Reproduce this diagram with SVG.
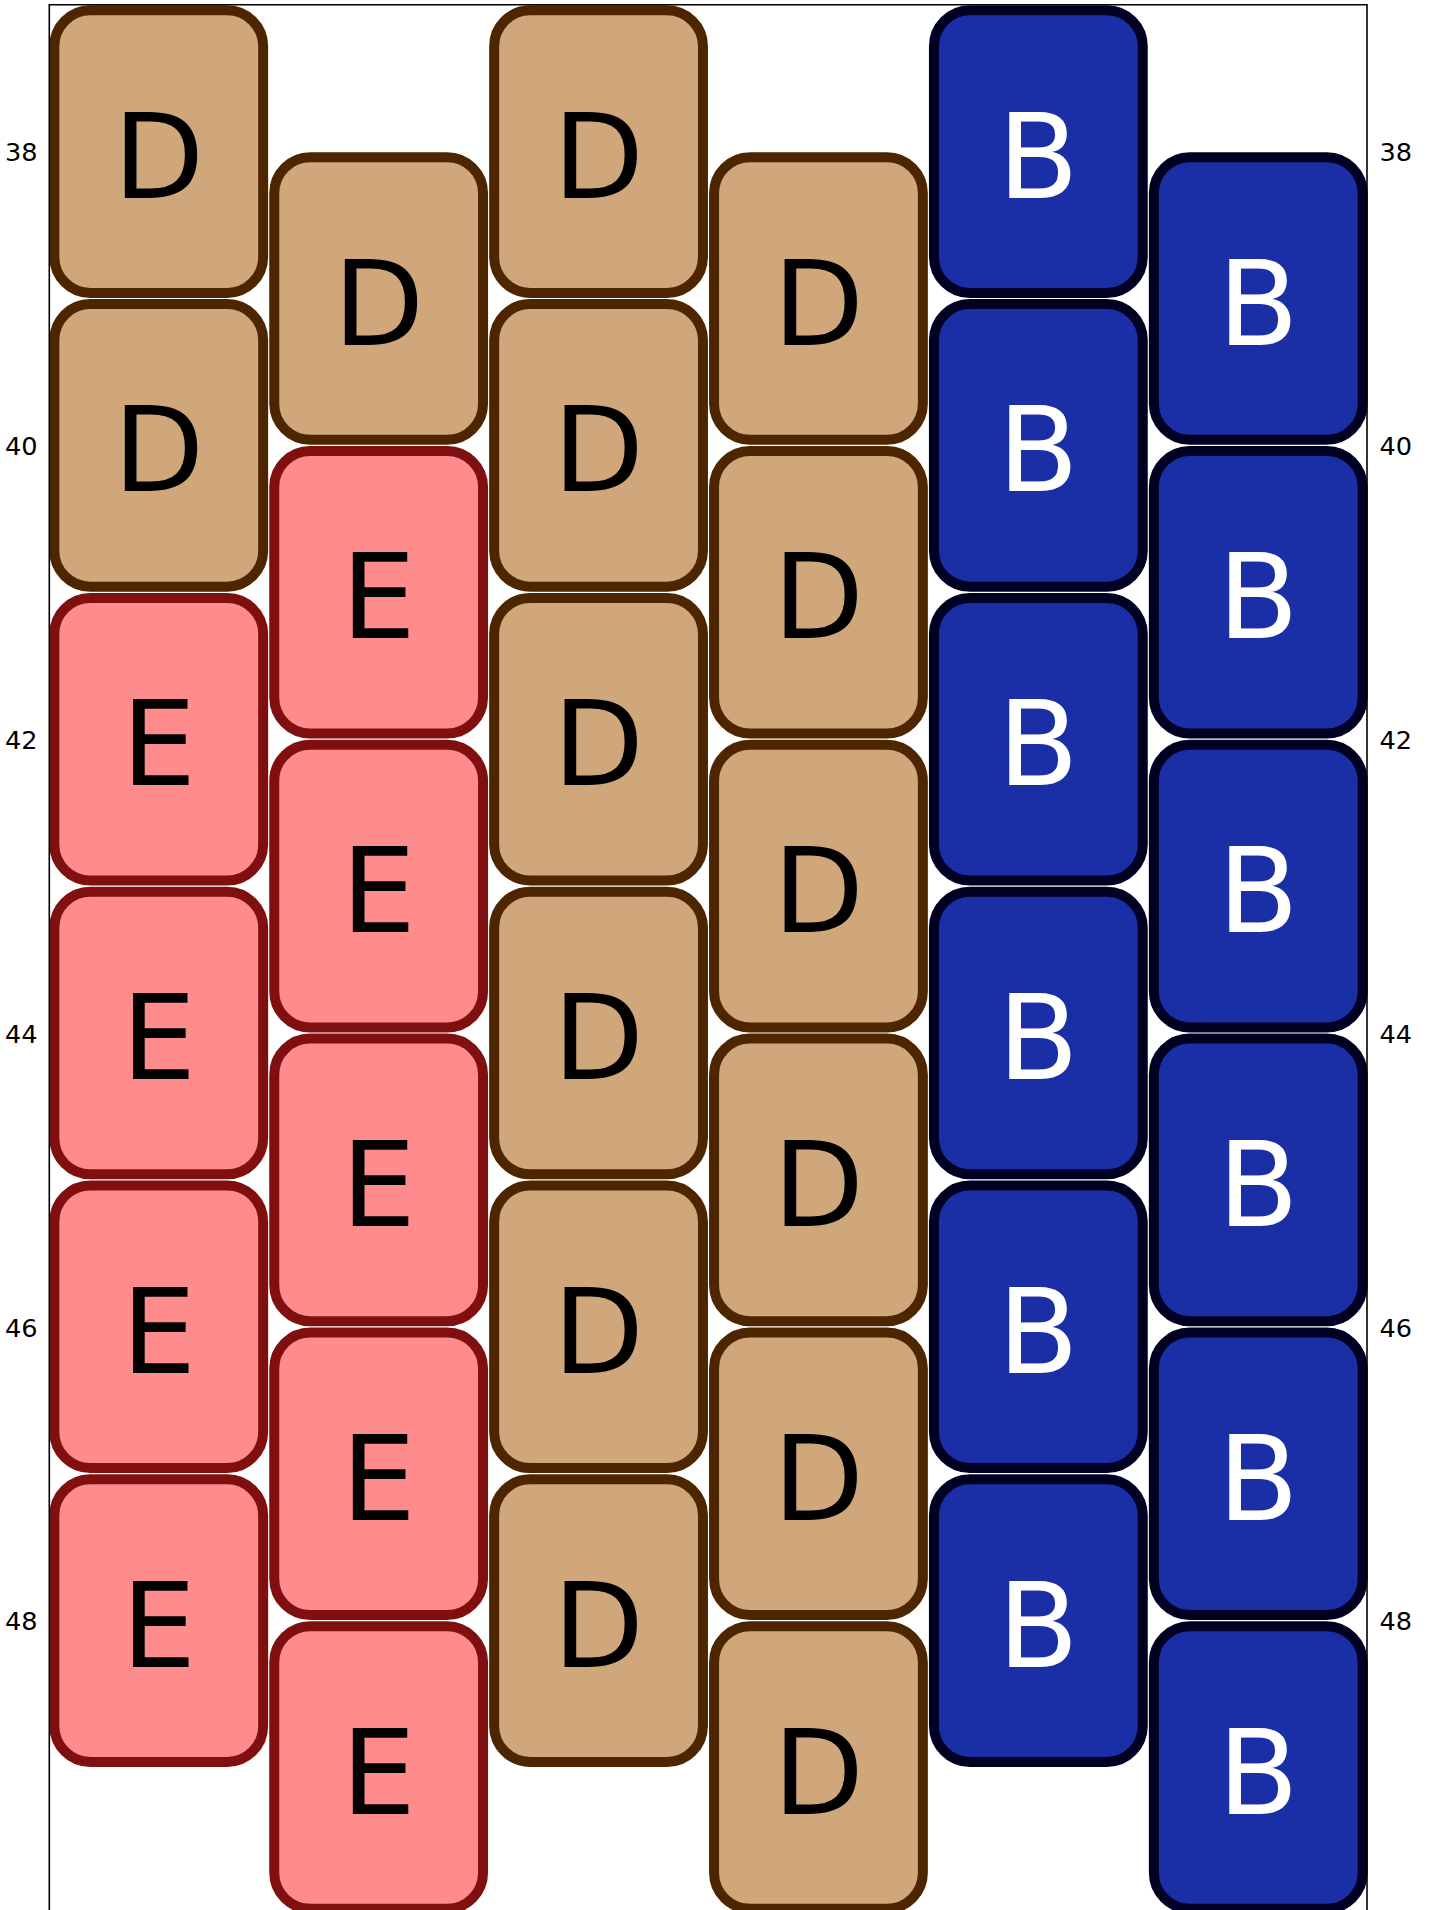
<svg xmlns="http://www.w3.org/2000/svg" width="1429" height="1910" viewBox="0 0 1429 1910">
<style>
rect.n{stroke-width:10;}
.d{fill:#D0A77B;stroke:#4D2600;}
.e{fill:#FF8C8C;stroke:#801010;}
.b{fill:#1A2EA6;stroke:#000022;}
text.l{font-family:"DejaVu Sans","Liberation Sans",sans-serif;font-size:118px;text-anchor:middle;}
text.k{fill:#000;}
text.w{fill:#fff;}
text.t{font-family:"DejaVu Sans","Liberation Sans",sans-serif;font-size:25.6px;fill:#000;}
</style>
<rect x="0" y="0" width="1429" height="1910" fill="#fff"/>
<g id="nodes">
<!-- column 0 -->
<g id="c0r38"><rect class="n d" x="54.35" y="10.3" width="208.8" height="282.6" rx="36"/><text class="l k" x="158.75" y="197.6">D</text></g>
<g id="c0r40"><rect class="n d" x="54.35" y="304.1" width="208.8" height="282.6" rx="36"/><text class="l k" x="158.75" y="491.4">D</text></g>
<g id="c0r42"><rect class="n e" x="54.35" y="597.9" width="208.8" height="282.6" rx="36"/><text class="l k" x="158.75" y="785.2">E</text></g>
<g id="c0r44"><rect class="n e" x="54.35" y="891.7" width="208.8" height="282.6" rx="36"/><text class="l k" x="158.75" y="1079">E</text></g>
<g id="c0r46"><rect class="n e" x="54.35" y="1185.5" width="208.8" height="282.6" rx="36"/><text class="l k" x="158.75" y="1372.8">E</text></g>
<g id="c0r48"><rect class="n e" x="54.35" y="1479.3" width="208.8" height="282.6" rx="36"/><text class="l k" x="158.75" y="1666.6">E</text></g>
<!-- column 1 -->
<g id="c1r39"><rect class="n d" x="274.25" y="157.2" width="208.8" height="282.6" rx="36"/><text class="l k" x="378.65" y="344.5">D</text></g>
<g id="c1r41"><rect class="n e" x="274.25" y="451" width="208.8" height="282.6" rx="36"/><text class="l k" x="378.65" y="638.3">E</text></g>
<g id="c1r43"><rect class="n e" x="274.25" y="744.8" width="208.8" height="282.6" rx="36"/><text class="l k" x="378.65" y="932.1">E</text></g>
<g id="c1r45"><rect class="n e" x="274.25" y="1038.6" width="208.8" height="282.6" rx="36"/><text class="l k" x="378.65" y="1225.9">E</text></g>
<g id="c1r47"><rect class="n e" x="274.25" y="1332.4" width="208.8" height="282.6" rx="36"/><text class="l k" x="378.65" y="1519.7">E</text></g>
<g id="c1r49"><rect class="n e" x="274.25" y="1626.2" width="208.8" height="282.6" rx="36"/><text class="l k" x="378.65" y="1813.5">E</text></g>
<!-- column 2 -->
<g id="c2r38"><rect class="n d" x="494.15" y="10.3" width="208.8" height="282.6" rx="36"/><text class="l k" x="598.55" y="197.6">D</text></g>
<g id="c2r40"><rect class="n d" x="494.15" y="304.1" width="208.8" height="282.6" rx="36"/><text class="l k" x="598.55" y="491.4">D</text></g>
<g id="c2r42"><rect class="n d" x="494.15" y="597.9" width="208.8" height="282.6" rx="36"/><text class="l k" x="598.55" y="785.2">D</text></g>
<g id="c2r44"><rect class="n d" x="494.15" y="891.7" width="208.8" height="282.6" rx="36"/><text class="l k" x="598.55" y="1079">D</text></g>
<g id="c2r46"><rect class="n d" x="494.15" y="1185.5" width="208.8" height="282.6" rx="36"/><text class="l k" x="598.55" y="1372.8">D</text></g>
<g id="c2r48"><rect class="n d" x="494.15" y="1479.3" width="208.8" height="282.6" rx="36"/><text class="l k" x="598.55" y="1666.6">D</text></g>
<!-- column 3 -->
<g id="c3r39"><rect class="n d" x="714.05" y="157.2" width="208.8" height="282.6" rx="36"/><text class="l k" x="818.45" y="344.5">D</text></g>
<g id="c3r41"><rect class="n d" x="714.05" y="451" width="208.8" height="282.6" rx="36"/><text class="l k" x="818.45" y="638.3">D</text></g>
<g id="c3r43"><rect class="n d" x="714.05" y="744.8" width="208.8" height="282.6" rx="36"/><text class="l k" x="818.45" y="932.1">D</text></g>
<g id="c3r45"><rect class="n d" x="714.05" y="1038.6" width="208.8" height="282.6" rx="36"/><text class="l k" x="818.45" y="1225.9">D</text></g>
<g id="c3r47"><rect class="n d" x="714.05" y="1332.4" width="208.8" height="282.6" rx="36"/><text class="l k" x="818.45" y="1519.7">D</text></g>
<g id="c3r49"><rect class="n d" x="714.05" y="1626.2" width="208.8" height="282.6" rx="36"/><text class="l k" x="818.45" y="1813.5">D</text></g>
<!-- column 4 -->
<g id="c4r38"><rect class="n b" x="933.95" y="10.3" width="208.8" height="282.6" rx="36"/><text class="l w" x="1038.35" y="197.6">B</text></g>
<g id="c4r40"><rect class="n b" x="933.95" y="304.1" width="208.8" height="282.6" rx="36"/><text class="l w" x="1038.35" y="491.4">B</text></g>
<g id="c4r42"><rect class="n b" x="933.95" y="597.9" width="208.8" height="282.6" rx="36"/><text class="l w" x="1038.35" y="785.2">B</text></g>
<g id="c4r44"><rect class="n b" x="933.95" y="891.7" width="208.8" height="282.6" rx="36"/><text class="l w" x="1038.35" y="1079">B</text></g>
<g id="c4r46"><rect class="n b" x="933.95" y="1185.5" width="208.8" height="282.6" rx="36"/><text class="l w" x="1038.35" y="1372.8">B</text></g>
<g id="c4r48"><rect class="n b" x="933.95" y="1479.3" width="208.8" height="282.6" rx="36"/><text class="l w" x="1038.35" y="1666.6">B</text></g>
<!-- column 5 -->
<g id="c5r39"><rect class="n b" x="1153.85" y="157.2" width="208.8" height="282.6" rx="36"/><text class="l w" x="1258.25" y="344.5">B</text></g>
<g id="c5r41"><rect class="n b" x="1153.85" y="451" width="208.8" height="282.6" rx="36"/><text class="l w" x="1258.25" y="638.3">B</text></g>
<g id="c5r43"><rect class="n b" x="1153.85" y="744.8" width="208.8" height="282.6" rx="36"/><text class="l w" x="1258.25" y="932.1">B</text></g>
<g id="c5r45"><rect class="n b" x="1153.85" y="1038.6" width="208.8" height="282.6" rx="36"/><text class="l w" x="1258.25" y="1225.9">B</text></g>
<g id="c5r47"><rect class="n b" x="1153.85" y="1332.4" width="208.8" height="282.6" rx="36"/><text class="l w" x="1258.25" y="1519.7">B</text></g>
<g id="c5r49"><rect class="n b" x="1153.85" y="1626.2" width="208.8" height="282.6" rx="36"/><text class="l w" x="1258.25" y="1813.5">B</text></g>
</g>
<g id="frame" fill="none" stroke="#000" stroke-width="1.6">
<path d="M49.3 1915 V4.7 H1367 V1915"/>
</g>
<g id="ticks-left">
<text class="t" x="37.5" y="161.3" text-anchor="end">38</text>
<text class="t" x="37.5" y="455.1" text-anchor="end">40</text>
<text class="t" x="37.5" y="748.9" text-anchor="end">42</text>
<text class="t" x="37.5" y="1042.7" text-anchor="end">44</text>
<text class="t" x="37.5" y="1336.5" text-anchor="end">46</text>
<text class="t" x="37.5" y="1630.3" text-anchor="end">48</text>
</g>
<g id="ticks-right">
<text class="t" x="1379.5" y="161.3">38</text>
<text class="t" x="1379.5" y="455.1">40</text>
<text class="t" x="1379.5" y="748.9">42</text>
<text class="t" x="1379.5" y="1042.7">44</text>
<text class="t" x="1379.5" y="1336.5">46</text>
<text class="t" x="1379.5" y="1630.3">48</text>
</g>
</svg>
